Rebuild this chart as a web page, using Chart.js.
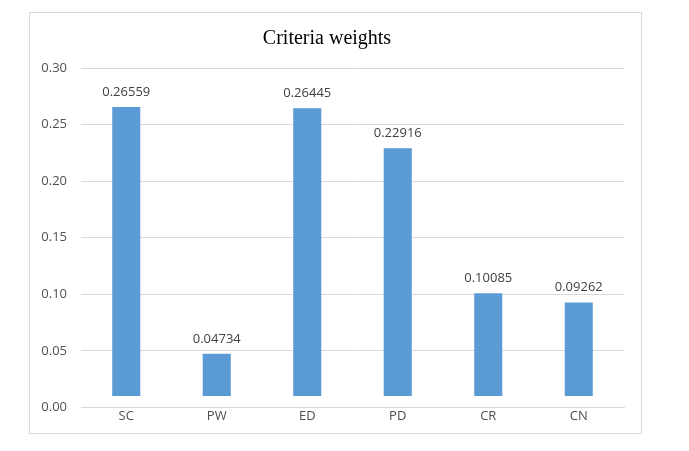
<!DOCTYPE html>
<html>
<head>
<meta charset="utf-8">
<script src="https://cdn.jsdelivr.net/npm/chart.js@4/dist/chart.umd.min.js"></script>
<style>
	body { margin: 0; background: #fff; }
	#frame {
		position: absolute;
		left: 29px;
		top: 12px;
		width: 611px;
		height: 420px;
		border: 1px solid #d9d9d9;
	}
</style>
</head>
<body>
<div id="frame"><canvas id="weights-canvas"></canvas></div>
<script>
const criteria = ["SC", "PW", "ED", "PD", "CR", "CN"];
const weights = [0.26559, 0.04734, 0.26445, 0.22916, 0.10085, 0.09262];
const yTicks = [0.0, 0.05, 0.1, 0.15, 0.2, 0.25, 0.3];
const barBase = 0.01;

Chart.defaults.font.family = "Open Sans";
Chart.defaults.font.size = 13;
Chart.defaults.color = "#505050";

// value labels above each bar
const valueLabels = {
	id: "valueLabels",
	afterDatasetsDraw(chart) {
		const ctx = chart.ctx;
		const meta = chart.getDatasetMeta(0);
		ctx.save();
		ctx.font = "13px 'Open Sans'";
		ctx.fillStyle = "#404040";
		ctx.textAlign = "center";
		ctx.textBaseline = "middle";
		meta.data.forEach((bar, i) => {
			ctx.fillText(weights[i].toFixed(5), bar.x, bar.y - 15);
		});
		ctx.restore();
	},
};

const weightsCanvas = document.getElementById("weights-canvas").getContext("2d");

const weightsChart = new Chart(weightsCanvas, {
	type: "bar",

	data: {
		labels: criteria,
		datasets: [
			{
				data: weights,
				base: barBase,
				backgroundColor: "#5b9bd5",
				categoryPercentage: 1,
				barPercentage: 0.31,
			},
		],
	},

	options: {
		animation: false,
		responsive: true,
		maintainAspectRatio: false,
		layout: {
			padding: { left: 0, right: 17, top: 0, bottom: 8 },
		},
		plugins: {
			legend: { display: false },
			tooltip: { enabled: false },
			title: {
				display: true,
				text: "Criteria weights",
				color: "#000",
				font: { family: "Liberation Serif", size: 20, weight: "normal" },
				padding: { top: 14, bottom: 17 },
			},
		},
		scales: {
			x: {
				grid: { display: false, drawTicks: false },
				border: { color: "#d9d9d9" },
				ticks: { padding: 1 },
			},
			y: {
				min: 0,
				max: 0.3,
				afterFit(scale) {
					scale.width = 51;
				},
				afterBuildTicks(scale) {
					scale.ticks = yTicks.map((v) => ({ value: v }));
				},
				grid: { color: "#d9d9d9", drawTicks: false },
				border: { display: false },
				ticks: {
					padding: 14,
					callback: (v) => v.toFixed(2),
				},
			},
		},
	},

	plugins: [valueLabels],
});
</script>
</body>
</html>
